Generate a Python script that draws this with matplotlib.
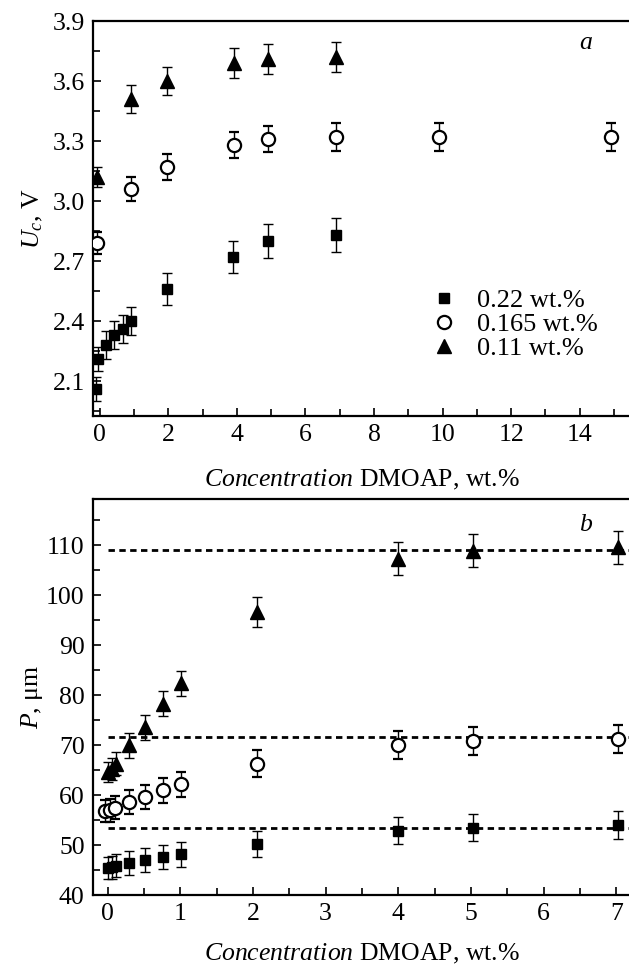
import matplotlib
matplotlib.use("Agg")
import matplotlib.pyplot as plt
from matplotlib.ticker import MultipleLocator

plt.rcParams['font.family'] = ['Liberation Serif', 'DejaVu Serif']
plt.rcParams['mathtext.fontset'] = 'custom'
plt.rcParams['mathtext.rm'] = 'Liberation Serif'
plt.rcParams['mathtext.it'] = 'Liberation Serif:italic'

FS = 18.5

# panel a: threshold voltage vs DMOAP concentration
a_labels = ['0.22 wt.%', '0.165 wt.%', '0.11 wt.%']
a_x_sq = [-0.12, -0.04, 0.18, 0.40, 0.67, 0.92, 1.95, 3.90, 4.92, 6.90]
a_y_sq = [2.06, 2.21, 2.28, 2.33, 2.36, 2.40, 2.56, 2.72, 2.80, 2.83]
a_e_sq = [0.06, 0.06, 0.07, 0.07, 0.07, 0.07, 0.08, 0.08, 0.085, 0.085]
a_x_ci = [-0.09, 0.92, 1.97, 3.91, 4.92, 6.90, 9.90, 14.93]
a_y_ci = [2.79, 3.06, 3.17, 3.28, 3.31, 3.32, 3.32, 3.32]
a_e_ci = [0.055, 0.06, 0.065, 0.065, 0.065, 0.068, 0.068, 0.068]
a_x_tr = [-0.09, 0.92, 1.97, 3.91, 4.92, 6.90]
a_y_tr = [3.12, 3.51, 3.60, 3.69, 3.71, 3.72]
a_e_tr = [0.05, 0.07, 0.07, 0.075, 0.075, 0.075]

# panel b: pitch vs DMOAP concentration
b_x_sq = [0.00, 0.06, 0.11, 0.30, 0.51, 0.76, 1.01, 2.06, 4.00, 5.02, 7.02]
b_y_sq = [45.5, 45.6, 45.9, 46.5, 47.0, 47.7, 48.2, 50.3, 52.9, 53.5, 54.0]
b_e_sq = [2.2, 2.3, 2.3, 2.4, 2.4, 2.4, 2.5, 2.6, 2.7, 2.7, 2.8]
b_x_ci = [-0.03, 0.03, 0.10, 0.30, 0.51, 0.76, 1.01, 2.06, 4.00, 5.02, 7.02]
b_y_ci = [56.9, 57.0, 57.5, 58.7, 59.7, 61.0, 62.2, 66.3, 70.0, 70.8, 71.3]
b_e_ci = [2.2, 2.3, 2.3, 2.4, 2.4, 2.5, 2.5, 2.7, 2.8, 2.8, 2.8]
b_x_tr = [0.00, 0.06, 0.11, 0.30, 0.51, 0.76, 1.01, 2.06, 4.00, 5.02, 7.02]
b_y_tr = [64.7, 65.3, 66.3, 70.0, 73.6, 78.3, 82.4, 96.6, 107.3, 108.9, 109.6]
b_e_tr = [2.0, 2.2, 2.3, 2.5, 2.5, 2.5, 2.5, 3.0, 3.3, 3.3, 3.3]
b_plateau = [109.0, 71.7, 53.5]

W, H = 629, 965
fig = plt.figure(figsize=(W / 100, H / 100), dpi=100)

styles = [dict(fmt='s', ms=7.5, mfc='black', mec='black'),
          dict(fmt='o', ms=9.5, mfc='white', mec='black', mew=1.6),
          dict(fmt='^', ms=9.5, mfc='black', mec='black')]


def style_axes(ax):
    for s in ax.spines.values():
        s.set_linewidth(1.6)
    ax.tick_params(which='both', direction='in', top=False, right=False,
                   labelsize=FS, width=1.2, pad=6)
    ax.tick_params(which='major', length=6)
    ax.tick_params(which='minor', length=5)


def draw(ax, xs, ys, es):
    handles = []
    for x, y, e, st in zip(xs, ys, es, styles):
        eb = ax.errorbar(x, y, yerr=e, ecolor='black', elinewidth=1.0,
                         capsize=3.5, capthick=1.0, zorder=3, **st)
        handles.append(eb[0])
    return handles


# ---- panel a
ax1 = fig.add_axes([93 / W, (H - 416) / H, (631 - 93) / W, (416 - 21) / H])
h = draw(ax1, [a_x_sq, a_x_ci, a_x_tr], [a_y_sq, a_y_ci, a_y_tr],
         [a_e_sq, a_e_ci, a_e_tr])
ax1.set_xlim(-0.2, 15.5)
ax1.set_ylim(1.925, 3.9)
ax1.xaxis.set_major_locator(MultipleLocator(2))
ax1.xaxis.set_minor_locator(MultipleLocator(1))
ax1.yaxis.set_major_locator(MultipleLocator(0.3))
ax1.yaxis.set_minor_locator(MultipleLocator(0.15))
ax1.yaxis.set_major_formatter(plt.FuncFormatter(lambda v, p: '%.1f' % v))
style_axes(ax1)
ax1.set_xlabel(r'$\mathit{Concentration}$ DMOAP, wt.%', fontsize=FS)
ax1.set_ylabel(r'$U_c$, V', fontsize=FS)
ax1.yaxis.set_label_coords(-0.089, 0.5)
ax1.xaxis.set_label_coords(0.5, -0.131)
ax1.text(0.915, 0.945, 'a', transform=ax1.transAxes, fontsize=FS,
         style='italic', ha='center', va='center')
ax1.legend(h, a_labels, loc='upper left', bbox_to_anchor=(0.628, 0.322),
           frameon=False, fontsize=FS + 0.5, handlelength=1.0,
           handletextpad=0.75, labelspacing=0.02, borderpad=0,
           borderaxespad=0)

# ---- panel b
ax2 = fig.add_axes([93 / W, (H - 895) / H, (631 - 93) / W, (895 - 499) / H])
for p in b_plateau:
    ax2.hlines(p, 0, 7.25, colors='black', linestyles=(0, (2.3, 1.6)),
               linewidth=2.0, zorder=2)
draw(ax2, [b_x_sq, b_x_ci, b_x_tr], [b_y_sq, b_y_ci, b_y_tr],
     [b_e_sq, b_e_ci, b_e_tr])
ax2.set_xlim(-0.2, 7.2)
ax2.set_ylim(40, 119.2)
ax2.xaxis.set_major_locator(MultipleLocator(1))
ax2.xaxis.set_minor_locator(MultipleLocator(0.5))
ax2.yaxis.set_major_locator(MultipleLocator(10))
ax2.yaxis.set_minor_locator(MultipleLocator(5))
style_axes(ax2)
ax2.set_xlabel(r'$\mathit{Concentration}$ DMOAP, wt.%', fontsize=FS)
ax2.set_ylabel(r'$P$, μm', fontsize=FS)
ax2.yaxis.set_label_coords(-0.089, 0.5)
ax2.xaxis.set_label_coords(0.5, -0.118)
ax2.text(0.915, 0.935, 'b', transform=ax2.transAxes, fontsize=FS,
         style='italic', ha='center', va='center')

fig.savefig('out.png', dpi=100)
